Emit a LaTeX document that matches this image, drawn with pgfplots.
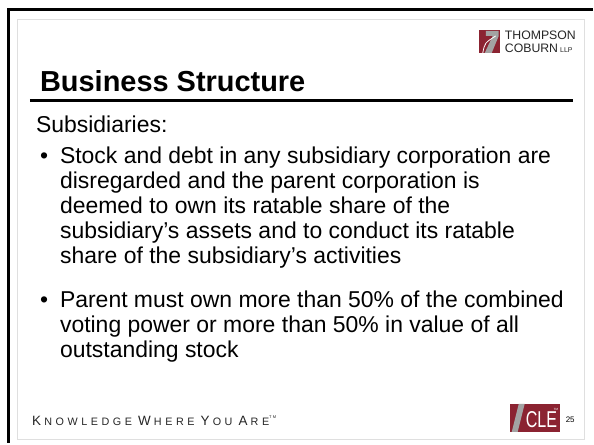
\documentclass[border=0pt]{standalone}
\usepackage{pgfplots}
\pgfplotsset{compat=1.18}
\usepackage{fontspec}
\setmainfont{Liberation Sans}
\newfontfamily\footfont[LetterSpace=33]{Liberation Sans}
\definecolor{tcred}{HTML}{8B2331}
\definecolor{tcgray}{HTML}{A3A3A3}
\newcommand{\fs}[1]{\fontsize{#1bp}{#1bp}\selectfont}
\newcommand{\capword}[2]{{\fs{13.5}#1}\kern3.2bp{\fs{10.8}#2}}

\begin{document}
\begin{tikzpicture}
\begin{axis}[
    width=594bp, height=444bp, scale only axis,
    xmin=0, xmax=594, ymin=0, ymax=444, y dir=reverse,
    hide axis, clip=false,
]
% page background and frames
\fill[white] (axis cs:0,0) rectangle (axis cs:594,444);
\draw[black, line width=3bp] (axis cs:8.3,444) -- (axis cs:8.3,10) -- (axis cs:594,10);
\draw[gray!25, line width=1bp] (axis cs:18,20) rectangle (axis cs:586,441);

% logo
\fill[tcred] (axis cs:480,30) rectangle (axis cs:501,53);
\fill[tcgray] (axis cs:487,31) -- (axis cs:500,31) -- (axis cs:500,36)
    -- (axis cs:493,53) -- (axis cs:486,53) -- (axis cs:494,36) -- (axis cs:487,36) -- cycle;
\draw[white, line width=0.8bp] (axis cs:484,53) .. controls (axis cs:486,43) .. (axis cs:497,36);
\node[anchor=base west, inner sep=0, text=black!85] at (axis cs:506,40) {\fs{12.3}THOMPSON};
\node[anchor=base west, inner sep=0, text=black!85] at (axis cs:506,52.5) {\fs{12.3}COBURN\,{\fs{7}LLP}};

% title
\node[anchor=base west, inner sep=0] at (axis cs:40,92) {\fs{29}\bfseries Business Structure};
\draw[black, line width=2.5bp] (axis cs:30,101) -- (axis cs:574,101);

% body
\node[anchor=base west, inner sep=0] at (axis cs:36,133) {\fs{23}Subsidiaries:};
\node[anchor=base west, inner sep=0] at (axis cs:40,164) {\fs{23}•};
\node[anchor=base west, inner sep=0] at (axis cs:60,164) {\fs{23}Stock and debt in any subsidiary corporation are};
\node[anchor=base west, inner sep=0] at (axis cs:60,189) {\fs{23}disregarded and the parent corporation is};
\node[anchor=base west, inner sep=0] at (axis cs:60,214) {\fs{23}deemed to own its ratable share of the};
\node[anchor=base west, inner sep=0] at (axis cs:60,239) {\fs{23}subsidiary’s assets and to conduct its ratable};
\node[anchor=base west, inner sep=0] at (axis cs:60,264) {\fs{23}share of the subsidiary’s activities};
\node[anchor=base west, inner sep=0] at (axis cs:40,308) {\fs{23}•};
\node[anchor=base west, inner sep=0] at (axis cs:60,308) {\fs{23}Parent must own more than 50\% of the combined};
\node[anchor=base west, inner sep=0] at (axis cs:60,333) {\fs{23}voting power or more than 50\% in value of all};
\node[anchor=base west, inner sep=0] at (axis cs:60,358) {\fs{23}outstanding stock};

% footer
\node[anchor=base west, inner sep=0, text=black!85] at (axis cs:32,426.5)
    {\footfont\capword{K}{NOWLEDGE} \capword{W}{HERE} \capword{Y}{OU} \capword{A}{RE}\raisebox{7bp}{\fs{4}TM}};

% CLE logo and page number
\fill[tcred] (axis cs:511,405) rectangle (axis cs:561,433);
\fill[tcgray] (axis cs:520,405) -- (axis cs:526,405) -- (axis cs:519,433) -- (axis cs:513,433) -- cycle;
\node[anchor=base west, inner sep=0, text=white, xscale=0.7] at (axis cs:527,429) {\fs{23}CLE};
\node[anchor=base west, inner sep=0, text=white] at (axis cs:555,412) {\fs{3}TM};
\node[anchor=base west, inner sep=0] at (axis cs:567,424) {\fs{8}25};
\end{axis}
\end{tikzpicture}
\end{document}
